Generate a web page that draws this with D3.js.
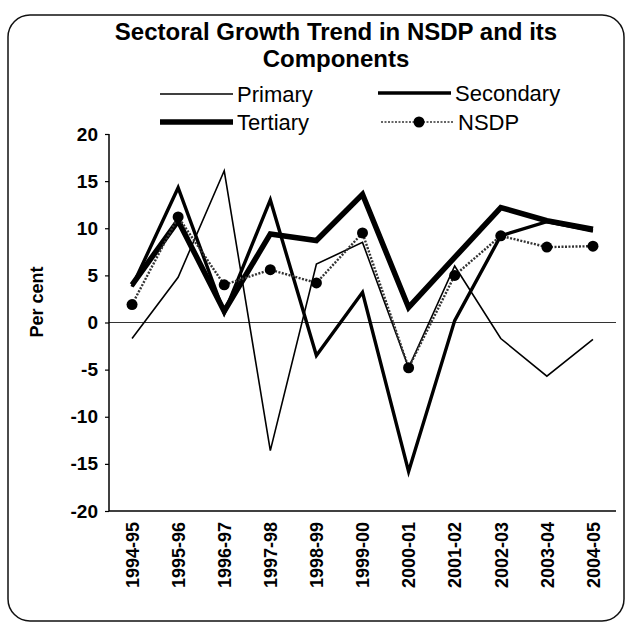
<!DOCTYPE html>
<html><head><meta charset="utf-8">
<script src="https://cdn.jsdelivr.net/npm/d3@7"></script>
<style>body{margin:0;background:#fff}</style>
</head><body>
<svg id="c" width="630" height="626"></svg>
<script>
const categories = ["1994-95","1995-96","1996-97","1997-98","1998-99","1999-00","2000-01","2001-02","2002-03","2003-04","2004-05"];
const primary   = [-1.7, 4.8, 16.1, -13.6, 6.2, 8.5, -4.8, 6.0, -1.7, -5.7, -1.8];
const secondary = [3.8, 14.3, 1.0, 13.0, -3.5, 3.2, -15.8, 0.2, 9.2, 10.7, 9.7];
const tertiary  = [4.0, 10.8, 1.2, 9.4, 8.7, 13.6, 1.6, 6.9, 12.2, 10.8, 9.9];
const nsdp      = [1.9, 11.2, 4.0, 5.6, 4.2, 9.5, -4.8, 5.0, 9.2, 8.0, 8.1];
const yTicks = [20, 15, 10, 5, 0, -5, -10, -15, -20];

const svg = d3.select("#c");
const font = "Liberation Sans, Arial, sans-serif";

// outer frame
svg.append("rect").attr("x",8).attr("y",15).attr("width",616).attr("height",606)
  .attr("rx",22).attr("fill","none").attr("stroke","#111").attr("stroke-width",1.5);

// title
const title = svg.append("text").attr("text-anchor","middle")
  .attr("font-family",font).attr("font-weight","bold").attr("font-size",24).attr("fill","#000");
title.append("tspan").attr("x",336).attr("y",40).text("Sectoral Growth Trend in NSDP and its");
title.append("tspan").attr("x",336).attr("y",67).text("Components");

const x = d3.scalePoint().domain(categories).range([109,616]).padding(0.5);
const y = d3.scaleLinear().domain([-20,20]).range([511,134]);

// zero line
svg.append("line").attr("x1",109).attr("x2",616).attr("y1",y(0)).attr("y2",y(0))
  .attr("stroke","#333").attr("stroke-width",1);

// axes
const yAxis = d3.axisLeft(y).tickValues(yTicks).tickSize(4).tickFormat(d3.format("d"));
const gy = svg.append("g").attr("transform","translate(109,0)").call(yAxis);
gy.select(".domain").attr("stroke","#000").attr("stroke-width",1.5).attr("d","M0,134V511");
gy.selectAll(".tick line").attr("stroke","#000").attr("stroke-width",1.2);
gy.selectAll(".tick text").attr("font-family",font).attr("font-weight","bold")
  .attr("font-size",19).attr("fill","#000").attr("x",-11).text(d=> d<0 ? "-"+Math.abs(d) : d);

const xAxis = d3.axisBottom(x).tickSize(0);
const gx = svg.append("g").attr("transform","translate(0,511)").call(xAxis);
gx.select(".domain").attr("stroke","#000").attr("stroke-width",1.5).attr("d","M109,0H616");
gx.selectAll(".tick text").attr("font-family",font).attr("font-weight","bold")
  .attr("font-size",18).attr("fill","#000")
  .attr("transform","rotate(-90)").attr("text-anchor","end")
  .attr("x",-11).attr("y",0).attr("dy","0.35em");

// y label
svg.append("text").attr("transform","translate(43,302) rotate(-90)")
  .attr("text-anchor","middle").attr("font-family",font).attr("font-weight","bold")
  .attr("font-size",18).attr("fill","#000").text("Per cent");

const line = d3.line().x((d,i)=>x(categories[i])).y(d=>y(d));

svg.append("path").datum(primary).attr("d",line).attr("fill","none")
  .attr("stroke","#000").attr("stroke-width",1.6).attr("stroke-linejoin","miter");
svg.append("path").datum(secondary).attr("d",line).attr("fill","none")
  .attr("stroke","#000").attr("stroke-width",3.4).attr("stroke-linejoin","miter");
svg.append("path").datum(tertiary).attr("d",line).attr("fill","none")
  .attr("stroke","#000").attr("stroke-width",5.5).attr("stroke-linejoin","miter");
svg.append("path").datum(nsdp).attr("d",line).attr("fill","none")
  .attr("stroke","#333").attr("stroke-width",2.4).attr("stroke-dasharray","2,1.5");
svg.selectAll("circle.n").data(nsdp).enter().append("circle").attr("class","n")
  .attr("cx",(d,i)=>x(categories[i])).attr("cy",d=>y(d)).attr("r",5.5).attr("fill","#000");

// legend
const leg = [
  {name:"Primary", x:160, y:94, w:1.6, dash:null, dot:false},
  {name:"Secondary", x:378, y:93, w:3.4, dash:null, dot:false},
  {name:"Tertiary", x:160, y:122, w:5.5, dash:null, dot:false},
  {name:"NSDP", x:381, y:122, w:1.5, dash:"2,1.5", dot:true}
];
leg.forEach(l=>{
  svg.append("line").attr("x1",l.x).attr("x2",l.x+73).attr("y1",l.y).attr("y2",l.y)
    .attr("stroke",l.dot?"#333":"#000").attr("stroke-width",l.w).attr("stroke-dasharray",l.dash);
  if(l.dot) svg.append("circle").attr("cx",l.x+38).attr("cy",l.y).attr("r",5.5).attr("fill","#000");
  svg.append("text").attr("x",l.x+77).attr("y",l.y).attr("dy","0.35em")
    .attr("font-family",font).attr("font-size",22).attr("fill","#000").text(l.name);
});
</script>
</body></html>
